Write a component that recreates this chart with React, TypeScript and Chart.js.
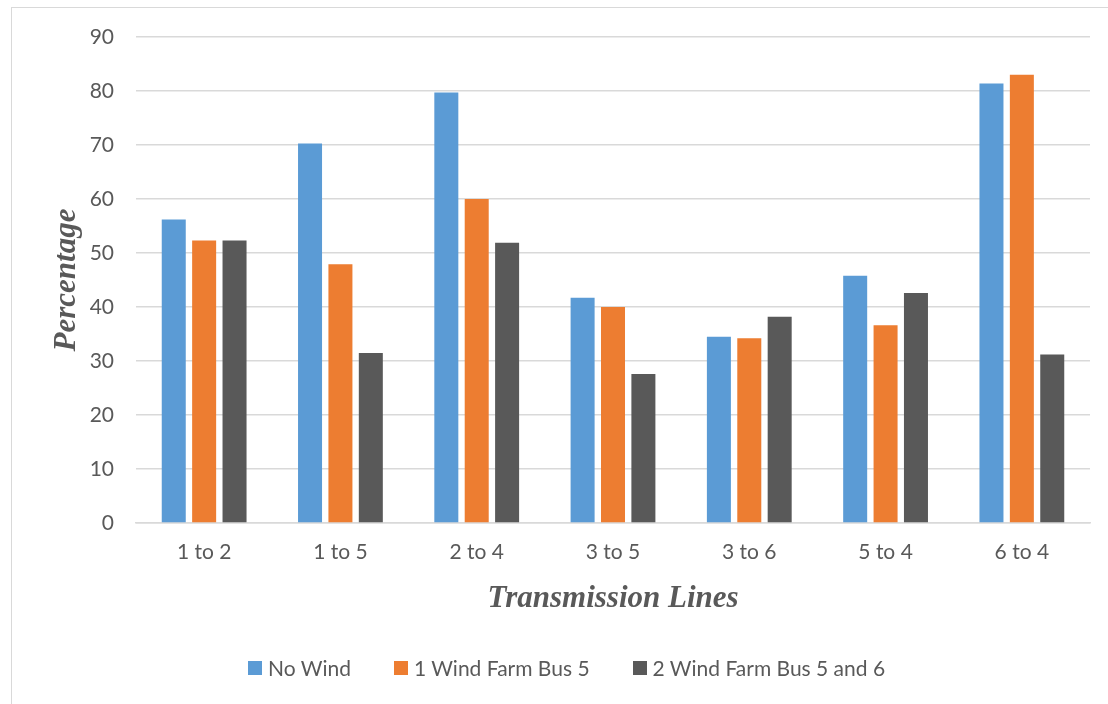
import React, { useEffect, useRef } from "react";
import { Chart, registerables } from "chart.js";

Chart.register(...registerables);

// Transmission line loading (%) under three wind scenarios
const categories = ["1 to 2", "1 to 5", "2 to 4", "3 to 5", "3 to 6", "5 to 4", "6 to 4"];
const noWind = [56.2, 70.3, 79.7, 41.7, 34.5, 45.8, 81.4];
const oneWindFarmBus5 = [52.3, 47.9, 60.0, 40.0, 34.2, 36.6, 83.0];
const twoWindFarmsBus5And6 = [52.3, 31.5, 51.9, 27.6, 38.2, 42.6, 31.2];

const seriesLabels = ["No Wind", "1 Wind Farm Bus 5", "2 Wind Farm Bus 5 and 6"];
const seriesColors = ["#5b9bd5", "#ed7d31", "#595959"];

const yMin = 0;
const yMax = 90;
const yStep = 10;

const TEXT = "#595959";
const GRID = "#d9d9d9";
const SANS = "Lato, 'Noto Sans', sans-serif";
const SERIF = "'Liberation Serif', 'DejaVu Serif', serif";

export default function App() {
  const canvasRef = useRef<HTMLCanvasElement | null>(null);

  useEffect(() => {
    const canvas = canvasRef.current;
    if (!canvas) return;
    const values = [noWind, oneWindFarmBus5, twoWindFarmsBus5And6];
    const chart = new Chart(canvas, {
      type: "bar",
      data: {
        labels: categories,
        datasets: values.map((data, i) => ({
          label: seriesLabels[i],
          data,
          backgroundColor: seriesColors[i],
          borderWidth: 0,
          categoryPercentage: 0.669,
          barPercentage: 0.79,
        })),
      },
      options: {
        responsive: false,
        animation: false,
        devicePixelRatio: 1,
        layout: { padding: { left: 48, right: 18, top: 37, bottom: 86 } },
        plugins: {
          legend: { display: false },
          tooltip: { enabled: false },
        },
        scales: {
          x: {
            grid: { display: false, drawTicks: false },
            border: { color: GRID, width: 1.5 },
            ticks: { color: TEXT, font: { family: SANS, size: 21 }, padding: 17 },
            title: {
              display: true,
              text: "Transmission Lines",
              color: TEXT,
              font: { family: SERIF, size: 31, style: "italic", weight: "bold" },
              padding: { top: 0, bottom: 0 },
            },
            afterFit: (scale: any) => {
              scale.height = 95;
            },
          },
          y: {
            min: yMin,
            max: yMax,
            grid: { color: GRID, lineWidth: 1.5, drawTicks: false },
            border: { display: false },
            ticks: { stepSize: yStep, color: TEXT, font: { family: SANS, size: 21 }, padding: 22 },
            title: {
              display: true,
              text: "Percentage",
              color: TEXT,
              font: { family: SERIF, size: 31, style: "italic", weight: "bold" },
              padding: { top: 0, bottom: 4 },
            },
            afterFit: (scale: any) => {
              scale.width = 88;
            },
          },
        },
      },
    });
    return () => chart.destroy();
  }, []);

  return (
    <div style={{ position: "fixed", left: 0, top: 0, width: 1108, height: 704, overflow: "hidden", background: "#fff" }}>
      <div
        style={{
          position: "absolute",
          left: 11,
          top: 7,
          width: 1200,
          height: 800,
          borderLeft: `1.5px solid ${GRID}`,
          borderTop: `1.5px solid ${GRID}`,
        }}
      />
      <canvas ref={canvasRef} width={1108} height={704} style={{ position: "absolute", left: 0, top: 0 }} />
      <div
        style={{
          position: "absolute",
          left: 248,
          top: 655,
          display: "flex",
          alignItems: "center",
          gap: 43,
          fontFamily: SANS,
          fontSize: 21,
          color: TEXT,
          lineHeight: "26px",
          whiteSpace: "nowrap",
        }}
      >
        {seriesLabels.map((label, i) => (
          <div key={label} style={{ display: "flex", alignItems: "center" }}>
            <span style={{ display: "inline-block", width: 14, height: 14, background: seriesColors[i], marginRight: 6 }} />
            <span>{label}</span>
          </div>
        ))}
      </div>
    </div>
  );
}
